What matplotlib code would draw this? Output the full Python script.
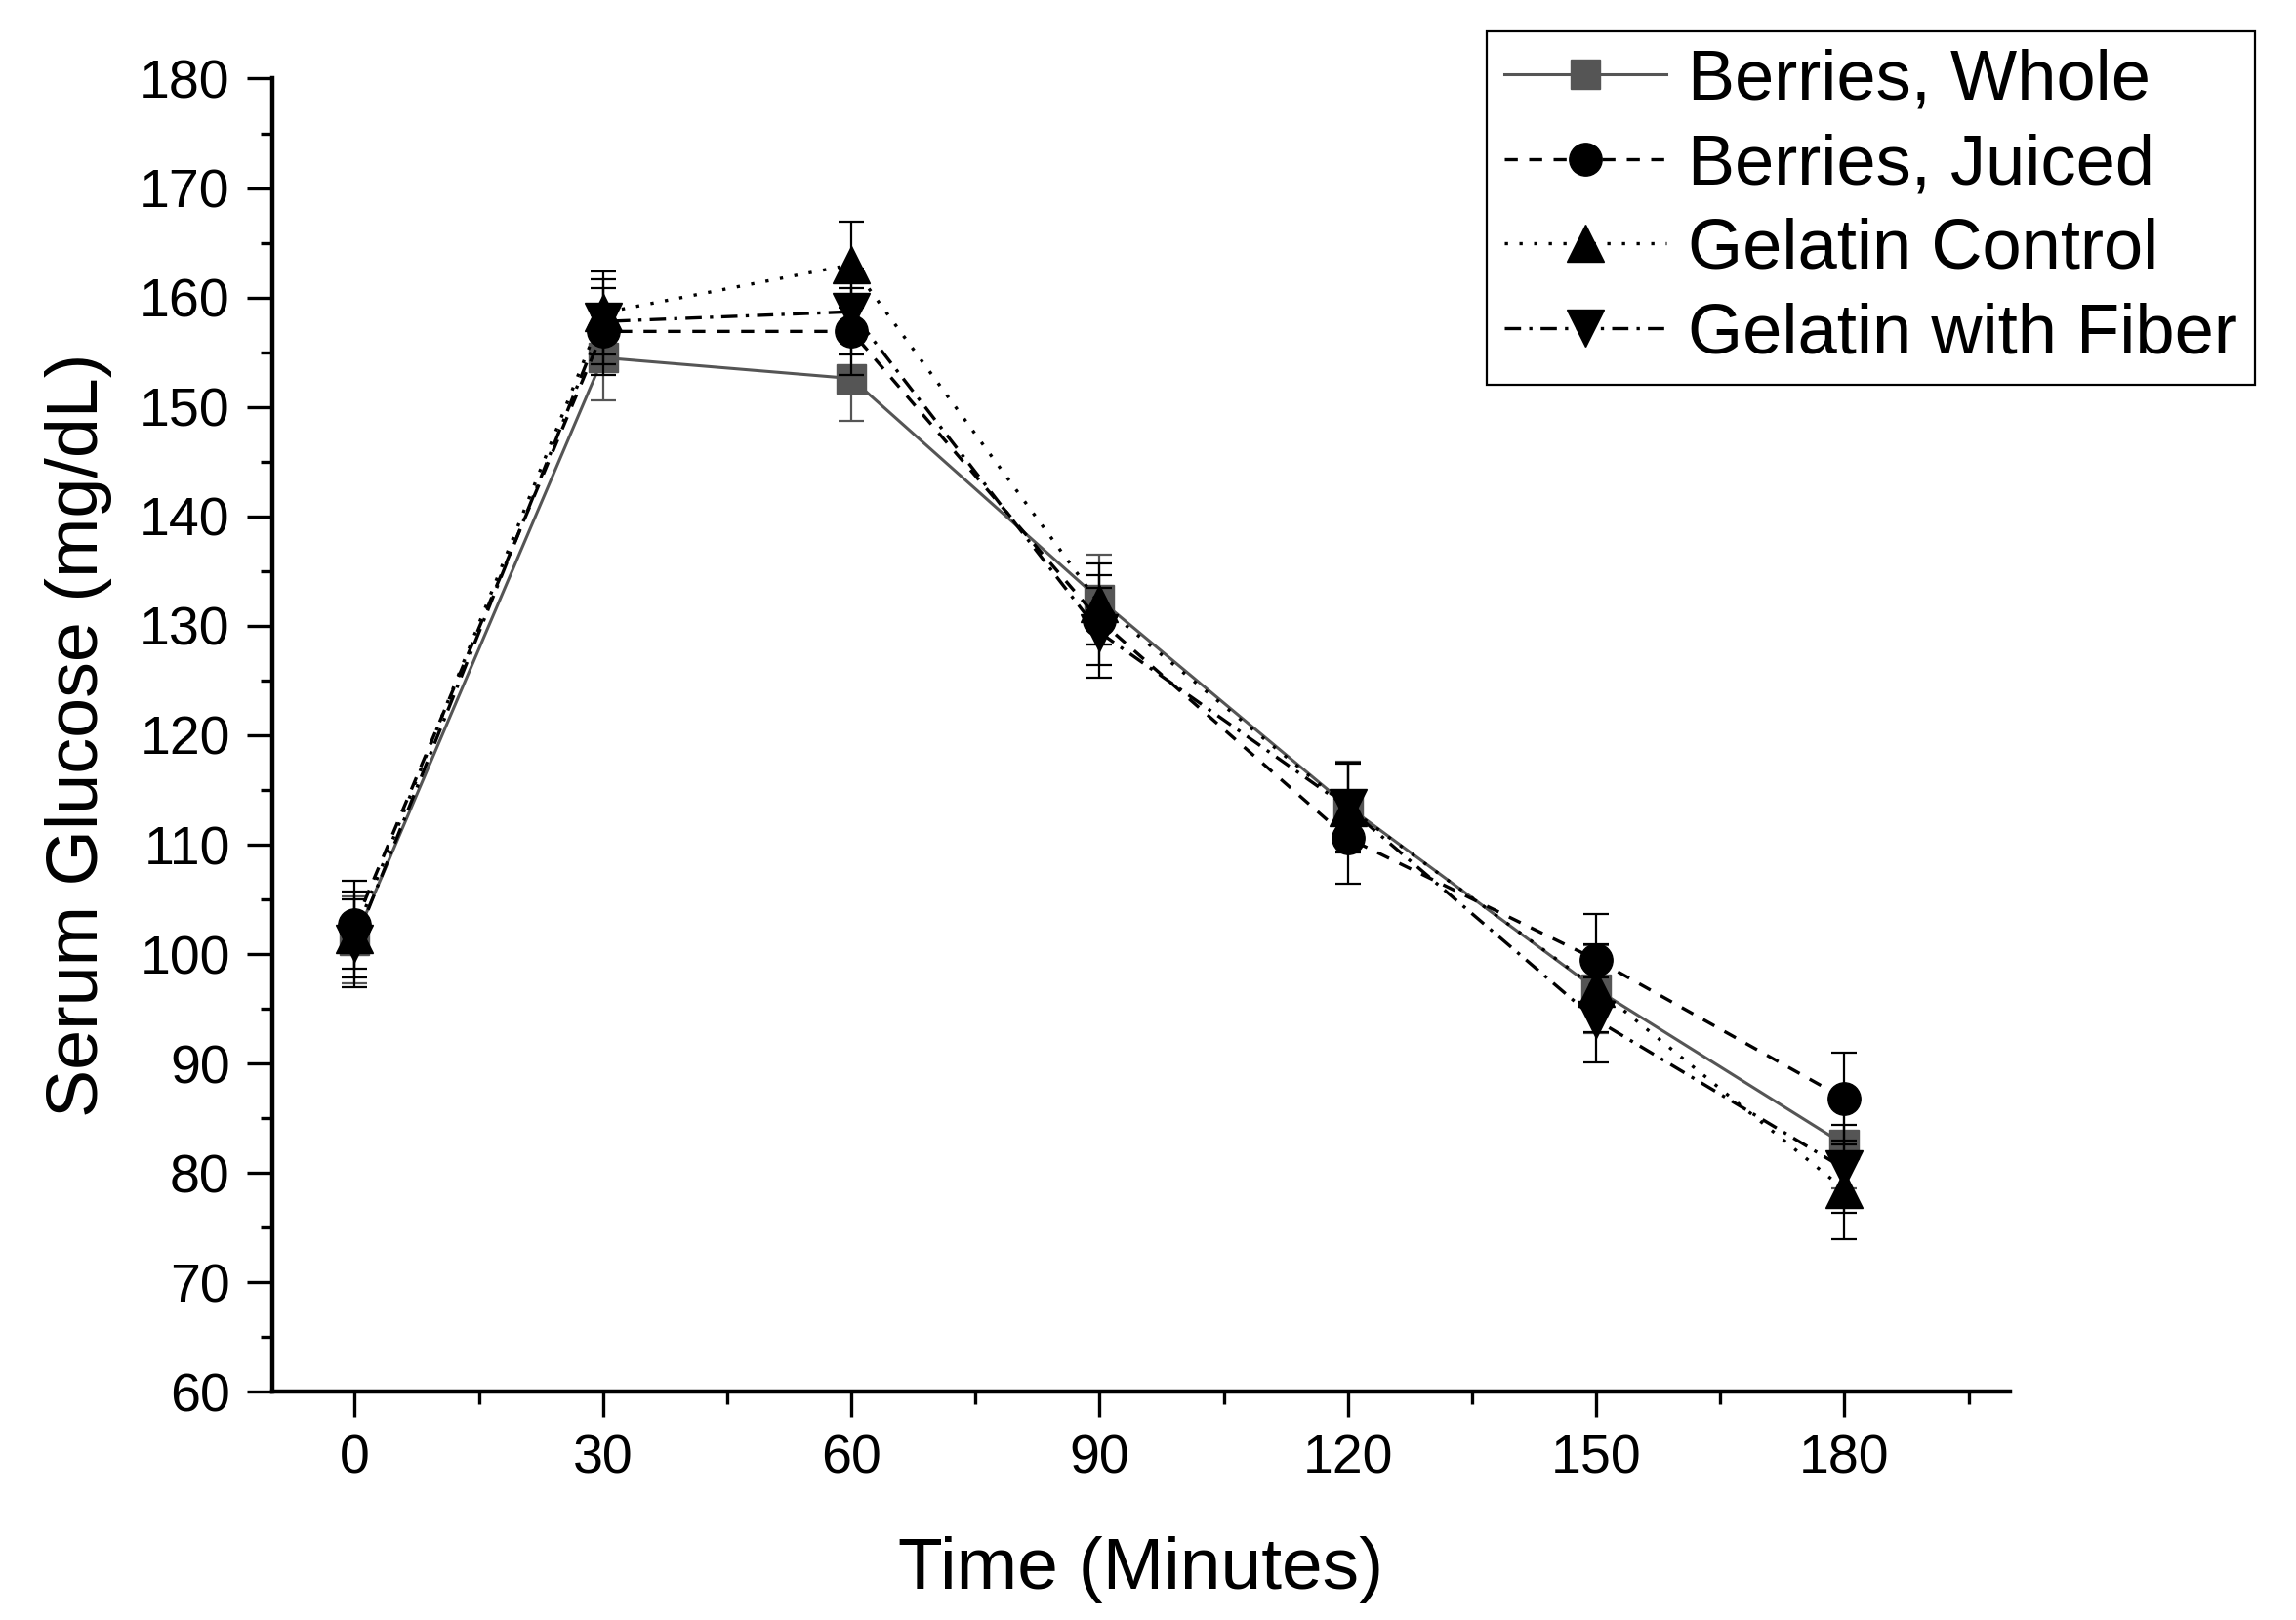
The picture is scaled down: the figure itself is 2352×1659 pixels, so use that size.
import matplotlib
matplotlib.use("Agg")
from matplotlib import pyplot as plt
from matplotlib.ticker import MultipleLocator
from matplotlib.lines import Line2D

plt.rcParams['font.family'] = ['Liberation Sans', 'DejaVu Sans']

time = [0, 30, 60, 90, 120, 150, 180]

whole = [101.3, 154.5, 152.6, 132.4, 113.5, 96.8, 82.6]
whole_se = [4.0, 3.9, 3.9, 4.1, 4.1, 4.0, 4.0]

juiced = [102.7, 156.9, 156.9, 130.5, 110.6, 99.5, 86.8]
juiced_se = [4.0, 4.0, 4.0, 4.1, 4.2, 4.2, 4.2]

control = [101.8, 158.6, 163.0, 132.0, 113.4, 96.9, 78.5]
control_se = [3.9, 3.8, 3.9, 3.7, 4.1, 4.0, 4.5]

fiber = [101.0, 157.8, 158.7, 129.4, 113.4, 94.0, 80.4]
fiber_se = [4.0, 3.9, 3.9, 4.1, 4.0, 3.9, 4.0]

names = ['Berries, Whole', 'Berries, Juiced', 'Gelatin Control', 'Gelatin with Fiber']

fig = plt.figure(figsize=(23.52, 16.59), dpi=100)
ax = fig.add_axes([0.1185, 0.1408, 0.7569, 0.8107])

# style per series: colour, linestyle, marker, marker size
styles = [
    ('#555555', '-', 's', 21, 2.2),
    ('black', (0, (4, 3.5)), 'o', 24, 2.4),
    ('black', (0, (1, 3.5)), '^', 27, 2.4),
    ('black', (0, (5, 2.5, 1, 2.5)), 'v', 27, 2.4),
]
series = [(whole, whole_se), (juiced, juiced_se), (control, control_se), (fiber, fiber_se)]

handles = []
for i, ((vals, se), (c, ls, m, ms, lw)) in enumerate(zip(series, styles)):
    ax.errorbar(time, vals, yerr=se, color=c, ecolor=c, lw=lw, ls=ls, marker=m, ms=ms,
                elinewidth=1.6, capsize=9.7, capthick=1.6, zorder=2 + i)
    handles.append(Line2D([], [], color=c, lw=lw, ls=ls, marker=m, ms=ms, label=names[i]))

ax.set_xlim(-10, 200)
ax.set_ylim(60, 180)
ax.xaxis.set_major_locator(MultipleLocator(30))
ax.xaxis.set_minor_locator(MultipleLocator(15))
ax.yaxis.set_major_locator(MultipleLocator(10))
ax.yaxis.set_minor_locator(MultipleLocator(5))

for s in ['top', 'right']:
    ax.spines[s].set_visible(False)
for s in ['left', 'bottom']:
    ax.spines[s].set_linewidth(3.2)

ax.tick_params(which='major', direction='out', length=19, width=2.4, labelsize=40, pad=12)
ax.tick_params(which='minor', direction='out', length=9, width=2.4)

ax.set_xlabel('Time (Minutes)', fontsize=54, labelpad=38)
ax.set_ylabel('Serum Glucose (mg/dL)', fontsize=53, labelpad=20)

leg = fig.legend(handles=handles, loc='upper right', bbox_to_anchor=(0.982, 0.981),
                 bbox_transform=fig.transFigure, fontsize=52, numpoints=1,
                 handlelength=2.3, handletextpad=0.3, labelspacing=0.27,
                 borderpad=0.25, borderaxespad=0, fancybox=False, framealpha=1)
leg.get_frame().set_edgecolor('black')
leg.get_frame().set_linewidth(1.6)

fig.savefig('out.png', dpi=100)
